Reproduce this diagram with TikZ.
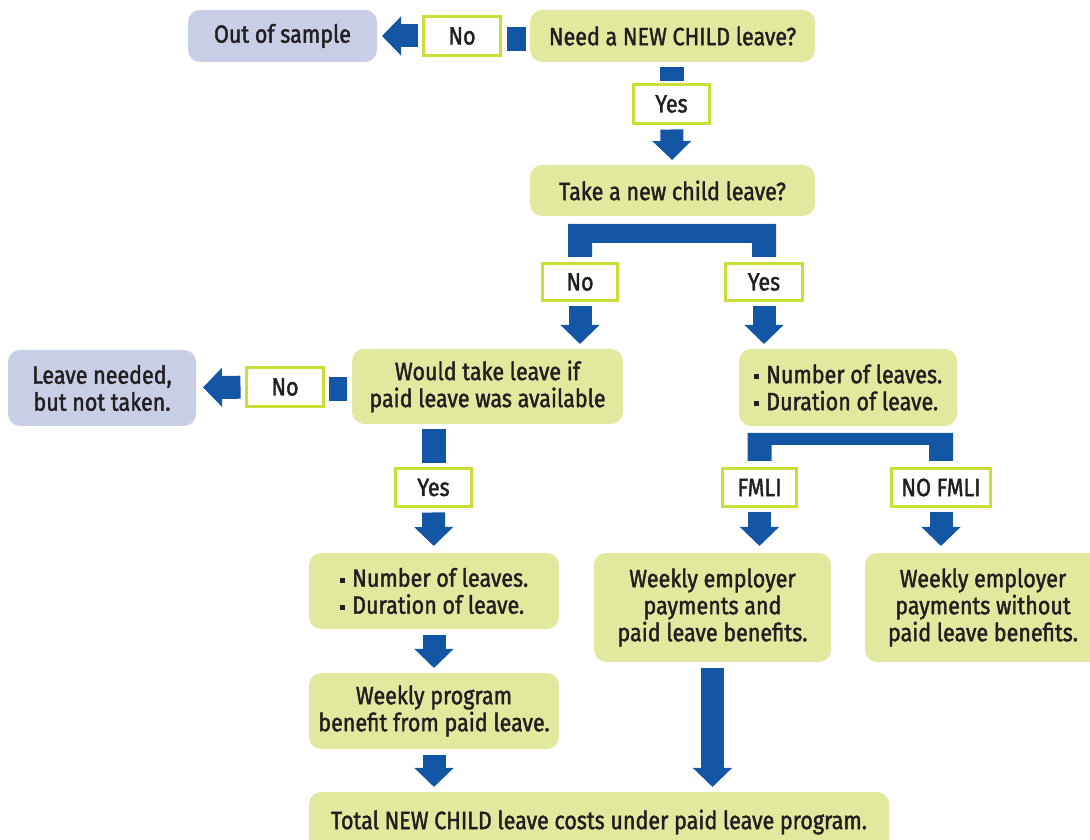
\documentclass[tikz,border=0pt]{standalone}
\usepackage{fontspec}
\setmainfont{Fira Sans}[FakeStretch=0.86,FakeBold=1.6]
\usetikzlibrary{arrows.meta}
\definecolor{boxgreen}{RGB}{226,233,158}
\definecolor{boxlav}{RGB}{200,206,230}
\definecolor{flowblue}{RGB}{20,86,166}
\definecolor{lblline}{RGB}{203,222,56}
\definecolor{ink}{RGB}{35,31,32}
\newcommand{\bul}{\raisebox{.3ex}{\rule{.2em}{.2em}}\hspace{.3em}}
\begin{document}
\begin{tikzpicture}[x=1pt,y=1pt,line join=miter,
	font=\fontsize{25}{27}\selectfont,text=ink,
	gbox/.style={fill=boxgreen,rounded corners=12pt,align=center,inner sep=0pt,outer sep=0pt},
	lbox/.style={gbox,fill=boxlav},
	lbl/.style={draw=lblline,line width=3pt,fill=white,inner sep=0pt,outer sep=0pt},
	stub/.style={fill=flowblue,inner sep=0pt,outer sep=0pt},
	arr/.style={draw=flowblue,line width=23pt,-{Triangle[width=38pt,length=19pt]},shorten <=6pt,shorten >=5pt},
	]
	\useasboundingbox (0,0) rectangle (1090,840);
	\node[lbox,minimum width=189pt,minimum height=52pt] (outS) at (282.5,804) {Out of sample};
	\node[lbl,minimum width=77pt,minimum height=39pt] (noA) at (462,804) {No};
	\node[stub,minimum width=19pt,minimum height=24pt] (sqA) at (516.5,801) {};
	\node[gbox,minimum width=285pt,minimum height=52pt] (need) at (672.5,804) {Need a NEW CHILD leave?};
	\node[stub,minimum width=24pt,minimum height=14pt] (stubA) at (672,766) {};
	\node[lbl,minimum width=76pt,minimum height=39pt] (yesA) at (671.5,736) {Yes};
	\node[gbox,minimum width=285pt,minimum height=51pt] (take) at (672.5,649.5) {Take a new child leave?};
	\node[lbl,minimum width=75pt,minimum height=37pt] (noB) at (580,558) {No};
	\node[lbl,minimum width=77pt,minimum height=37pt] (yesB) at (764,558) {Yes};
	\node[gbox,minimum width=271pt,minimum height=75pt] (would) at (487.5,453.5) {Would take leave if\\paid leave was available};
	\node[gbox,minimum width=218pt,minimum height=77pt,align=left] (numR) at (848,452.5) {\bul Number of leaves.\\\bul Duration of leave.};
	\node[lbox,minimum width=188pt,minimum height=76pt] (leaveN) at (102,452) {Leave needed,\\but not taken.};
	\node[lbl,minimum width=77pt,minimum height=39pt] (noC) at (285,453) {No};
	\node[stub,minimum width=18pt,minimum height=24pt] (sqC) at (338,451) {};
	\node[stub,minimum width=24pt,minimum height=34pt] (stubC) at (434,394) {};
	\node[lbl,minimum width=76pt,minimum height=38pt] (yesC) at (433.5,352.5) {Yes};
	\node[gbox,minimum width=250pt,minimum height=76pt,align=left] (numL) at (434,249) {\bul Number of leaves.\\\bul Duration of leave.};
	\node[gbox,minimum width=250pt,minimum height=76pt] (weekP) at (434,129) {Weekly program\\benefit from paid leave.};
	\node[gbox,minimum width=580pt,minimum height=60pt] (total) at (599,18) {Total NEW CHILD leave costs under paid leave program.};
	\node[lbl,minimum width=74pt,minimum height=38pt] (fmli) at (759.5,352.5) {FMLI};
	\node[lbl,minimum width=99pt,minimum height=38pt] (nofmli) at (941,352.5) {NO FMLI};
	\node[gbox,minimum width=237pt,minimum height=109pt] (empA) at (712.5,232.5) {Weekly employer\\payments and\\paid leave benefits.};
	\node[gbox,minimum width=236pt,minimum height=109pt] (empB) at (983,232.5) {Weekly employer\\payments without\\paid leave benefits.};
	\draw[arr] (noA) -- (outS);
	\draw[arr,shorten >=7pt] (noC) -- (leaveN);
	\draw[arr] (yesA) -- (take);
	\draw[arr] (noB) -- (would.north -| noB);
	\draw[arr] (yesB) -- (numR.north -| yesB);
	\draw[arr,shorten >=7pt] (yesC) -- (numL);
	\draw[arr] (numL) -- (weekP);
	\draw[arr] (weekP) -- (total.north -| weekP);
	\draw[arr,shorten >=7pt] (fmli) -- (empA.north -| fmli);
	\draw[arr,shorten >=7pt] (nofmli) -- (empB.north -| nofmli);
	\draw[arr] (empA) -- (total.north -| empA);
	\fill[flowblue] ([shift={(-12pt,6.5pt)}]noB.north) |- ([shift={(12pt,39.5pt)}]yesB.north)
		|- ([shift={(-12pt,6.5pt)}]yesB.north) -- ([shift={(-12pt,20.5pt)}]yesB.north)
		-- ([shift={(12pt,20.5pt)}]noB.north) -- ([shift={(12pt,6.5pt)}]noB.north) -- cycle;
	\fill[flowblue] ([shift={(-12pt,7.5pt)}]fmli.north) |- ([shift={(12pt,35.5pt)}]nofmli.north)
		|- ([shift={(-12pt,7.5pt)}]nofmli.north) -- ([shift={(-12pt,23.5pt)}]nofmli.north)
		-- ([shift={(12pt,23.5pt)}]fmli.north) -- ([shift={(12pt,7.5pt)}]fmli.north) -- cycle;
\end{tikzpicture}
\end{document}
